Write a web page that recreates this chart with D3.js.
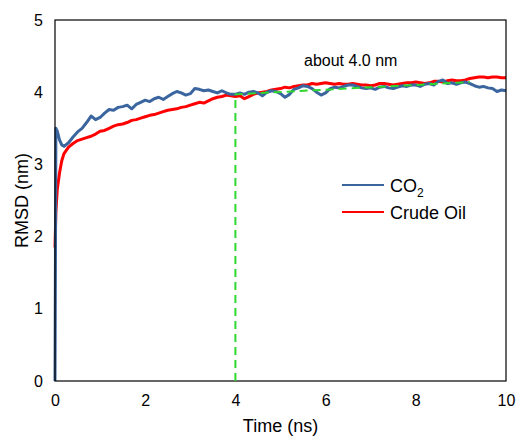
<!DOCTYPE html>
<html>
<head>
<meta charset="utf-8">
<script src="https://cdn.jsdelivr.net/npm/d3@7"></script>
<style>
  body { margin: 0; background: #fff; }
  text { font-family: "Liberation Sans", Arial, sans-serif; fill: #000; }
</style>
</head>
<body>
<svg id="chart" width="516" height="436"></svg>
<script>
// time axis (ns)
const time = [0, 0.02, 0.05,
  0.1, 0.15, 0.2, 0.3, 0.4, 0.5, 0.6, 0.7, 0.8, 0.9, 1.0,
  1.1, 1.2, 1.3, 1.4, 1.5, 1.6, 1.7, 1.8, 1.9, 2.0,
  2.1, 2.2, 2.3, 2.4, 2.5, 2.6, 2.7, 2.8, 2.9, 3.0,
  3.1, 3.2, 3.3, 3.4, 3.5, 3.6, 3.7, 3.8, 3.9, 4.0,
  4.1, 4.2, 4.3, 4.4, 4.5, 4.6, 4.7, 4.8, 4.9, 5.0,
  5.1, 5.2, 5.3, 5.4, 5.5, 5.6, 5.7, 5.8, 5.9, 6.0,
  6.1, 6.2, 6.3, 6.4, 6.5, 6.6, 6.7, 6.8, 6.9, 7.0,
  7.1, 7.2, 7.3, 7.4, 7.5, 7.6, 7.7, 7.8, 7.9, 8.0,
  8.1, 8.2, 8.3, 8.4, 8.5, 8.6, 8.7, 8.8, 8.9, 9.0,
  9.1, 9.2, 9.3, 9.4, 9.5, 9.6, 9.7, 9.8, 9.9, 10.0];

// RMSD of CO2 (nm)
const co2 = [0, 3.50, 3.46,
  3.34, 3.27, 3.25, 3.30, 3.38, 3.45, 3.50, 3.58, 3.67, 3.62, 3.65,
  3.71, 3.76, 3.75, 3.79, 3.80, 3.82, 3.77, 3.83, 3.86, 3.89,
  3.87, 3.91, 3.93, 3.90, 3.94, 3.98, 4.01, 3.99, 3.96, 3.98,
  4.05, 4.04, 4.02, 4.03, 4.01, 3.99, 4.02, 3.99, 3.97, 3.97,
  3.99, 3.97, 4.00, 4.01, 3.99, 3.95, 4.00, 4.02, 4.01, 3.98,
  3.93, 3.97, 4.04, 4.06, 4.09, 4.08, 4.05, 4.00, 3.96, 3.99,
  4.05, 4.07, 4.06, 4.08, 4.10, 4.10, 4.08, 4.06, 4.05, 4.06,
  4.04, 4.07, 4.08, 4.06, 4.05, 4.07, 4.09, 4.08, 4.10, 4.10,
  4.08, 4.11, 4.12, 4.10, 4.15, 4.17, 4.12, 4.13, 4.11, 4.13,
  4.14, 4.12, 4.09, 4.07, 4.08, 4.06, 4.05, 4.01, 4.03, 4.02];

// RMSD of crude oil (nm)
const crudeOil = [1.85, 2.35, 2.65,
  2.88, 3.05, 3.15, 3.24, 3.29, 3.33, 3.35, 3.37, 3.39, 3.42, 3.46,
  3.47, 3.50, 3.53, 3.55, 3.56, 3.58, 3.61, 3.62, 3.64, 3.66,
  3.68, 3.69, 3.71, 3.73, 3.75, 3.76, 3.77, 3.79, 3.80, 3.82,
  3.84, 3.86, 3.85, 3.88, 3.91, 3.93, 3.94, 3.96, 3.95, 3.94,
  3.95, 3.91, 3.94, 3.97, 3.99, 4.00, 4.01, 4.03, 4.04, 4.05,
  4.07, 4.06, 4.08, 4.09, 4.10, 4.10, 4.12, 4.11, 4.12, 4.13,
  4.12, 4.11, 4.12, 4.11, 4.11, 4.12, 4.11, 4.10, 4.10, 4.09,
  4.10, 4.12, 4.12, 4.11, 4.10, 4.11, 4.12, 4.13, 4.13, 4.14,
  4.13, 4.12, 4.13, 4.15, 4.15, 4.14, 4.16, 4.17, 4.16, 4.16,
  4.17, 4.19, 4.20, 4.21, 4.21, 4.20, 4.21, 4.21, 4.20, 4.20];

// green dashed guide: vertical at 4 ns, then the plateau trend
const guideT = [4, 4, 9.2];
const guideV = [0, 3.97, 4.14];

const xTicks = [0, 2, 4, 6, 8, 10];
const yTicks = [0, 1, 2, 3, 4, 5];

const svg = d3.select("svg#chart");
const margin = {left: 55, right: 10, top: 20, bottom: 55};
const W = 516, H = 436;

const x = d3.scaleLinear().domain([0, 10]).range([margin.left, W - margin.right]);
const y = d3.scaleLinear().domain([0, 5]).range([H - margin.bottom, margin.top]);

// axes (labels only, no tick marks)
const xAxis = svg.append("g")
  .attr("transform", `translate(0,${y(0)})`)
  .call(d3.axisBottom(x).tickValues(xTicks).tickFormat(d3.format("d")).tickSize(0).tickPadding(14));
const yAxis = svg.append("g")
  .attr("transform", `translate(${x(0)},0)`)
  .call(d3.axisLeft(y).tickValues(yTicks).tickFormat(d3.format("d")).tickSize(0).tickPadding(12));
[xAxis, yAxis].forEach(a => {
  a.select(".domain").remove();
  a.selectAll("text").style("font-size", "16px")
    .style("font-family", '"Liberation Sans", Arial, sans-serif');
});

const line = d3.line()
  .x(d => x(d[0]))
  .y(d => y(d[1]));

const redPts = time.map((t, i) => [t, crudeOil[i]]);
const bluePts = time.map((t, i) => [t, co2[i]]);

svg.append("path")
  .datum(redPts)
  .attr("d", line)
  .attr("fill", "none")
  .attr("stroke", "#ff0000")
  .attr("stroke-width", 3)
  .attr("stroke-linejoin", "round");

svg.append("path")
  .datum(bluePts)
  .attr("d", line)
  .attr("fill", "none")
  .attr("stroke", "#3a659e")
  .attr("stroke-width", 3)
  .attr("stroke-linejoin", "round");

// plot frame
svg.append("rect")
  .attr("x", x(0)).attr("y", y(5))
  .attr("width", x(10) - x(0)).attr("height", y(0) - y(5))
  .attr("fill", "none").attr("stroke", "#000").attr("stroke-width", 1.2);

svg.append("path")
  .datum(guideT.map((t, i) => [t, guideV[i]]))
  .attr("d", line)
  .attr("fill", "none")
  .attr("stroke", "#2ed82e")
  .attr("stroke-width", 2)
  .attr("stroke-dasharray", "8,5");

// annotation
svg.append("text")
  .attr("x", 304).attr("y", 66)
  .style("font-size", "16px")
  .text("about 4.0 nm");

// legend
const legend = [
  {name: "CO", sub: "2", color: "#3a659e"},
  {name: "Crude Oil", sub: "", color: "#ff0000"}
];
const lg = svg.append("g").attr("transform", "translate(342,185)");
legend.forEach((d, i) => {
  const row = lg.append("g").attr("transform", `translate(0,${i * 27})`);
  row.append("line")
    .attr("x1", 0).attr("x2", 42)
    .attr("stroke", d.color).attr("stroke-width", 2);
  const t = row.append("text").attr("x", 48).attr("y", 6.5)
    .style("font-size", "18px").text(d.name);
  if (d.sub) {
    t.append("tspan").attr("dy", 5).style("font-size", "12px").text(d.sub);
  }
});

// axis titles
svg.append("text")
  .attr("x", (x(0) + x(10)) / 2).attr("y", 432)
  .attr("text-anchor", "middle")
  .style("font-size", "18px")
  .text("Time (ns)");

svg.append("text")
  .attr("transform", `translate(28,${(y(0) + y(5)) / 2}) rotate(-90)`)
  .attr("text-anchor", "middle")
  .style("font-size", "18px")
  .text("RMSD (nm)");
</script>
</body>
</html>
